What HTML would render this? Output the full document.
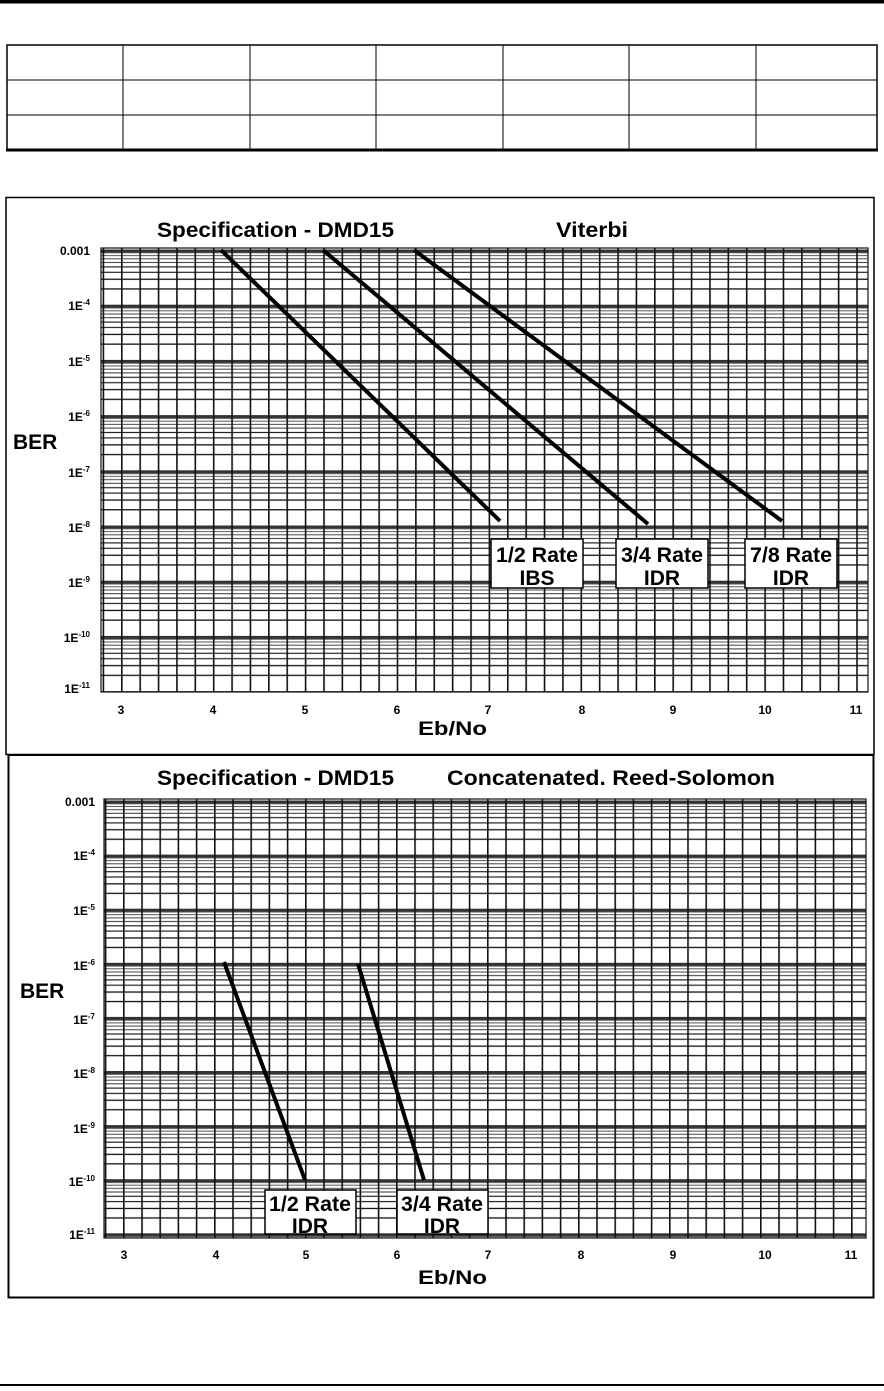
<!DOCTYPE html>
<html><head><meta charset="utf-8"><style>
html,body{margin:0;padding:0;background:#fff;}
body{width:884px;height:1386px;position:relative;overflow:hidden;font-family:"Liberation Sans",Arial,sans-serif;}
</style></head><body>
<svg width="884" height="1386" viewBox="0 0 884 1386" xmlns="http://www.w3.org/2000/svg" font-family="Liberation Sans, Arial, sans-serif" font-weight="bold">
<defs>
<pattern id="v1" x="121" y="0" width="18.38" height="10" patternUnits="userSpaceOnUse"><rect x="0" y="0" width="1.6" height="10" fill="#111"/></pattern>
<pattern id="h1" x="0" y="250" width="10" height="55.2" patternUnits="userSpaceOnUse">
<rect x="0" y="-0.5" width="10" height="3.5" fill="#333"/>
<rect x="0" y="2.3" width="10" height="1" fill="#555"/>
<rect x="0" y="5.1" width="10" height="1" fill="#555"/>
<rect x="0" y="8.3" width="10" height="1" fill="#444"/>
<rect x="0" y="12" width="10" height="1" fill="#333"/>
<rect x="0" y="16.3" width="10" height="1.2" fill="#222"/>
<rect x="0" y="21.7" width="10" height="1.2" fill="#222"/>
<rect x="0" y="28.6" width="10" height="1.3" fill="#111"/>
<rect x="0" y="38.3" width="10" height="1.3" fill="#111"/>
<rect x="0" y="54.7" width="10" height="0.5" fill="#333"/>
</pattern>
<pattern id="v2" x="123" y="0" width="18.2" height="10" patternUnits="userSpaceOnUse"><rect x="0" y="0" width="1.6" height="10" fill="#111"/></pattern>
<pattern id="h2" x="0" y="801" width="10" height="54.1" patternUnits="userSpaceOnUse">
<rect x="0" y="-0.5" width="10" height="3.5" fill="#333"/>
<rect x="0" y="2.3" width="10" height="1" fill="#555"/>
<rect x="0" y="5" width="10" height="1" fill="#555"/>
<rect x="0" y="8.2" width="10" height="1" fill="#444"/>
<rect x="0" y="11.8" width="10" height="1" fill="#333"/>
<rect x="0" y="16" width="10" height="1.2" fill="#222"/>
<rect x="0" y="21.3" width="10" height="1.2" fill="#222"/>
<rect x="0" y="28.1" width="10" height="1.3" fill="#111"/>
<rect x="0" y="37.6" width="10" height="1.3" fill="#111"/>
<rect x="0" y="53.6" width="10" height="0.5" fill="#333"/>
</pattern>
</defs>

<rect x="0" y="0" width="884" height="3.5" fill="#000"/>
<g stroke="#000" fill="none">
<rect x="7" y="45" width="870" height="105" stroke-width="1.5"/>
<line x1="6" y1="150" x2="878" y2="150" stroke-width="3"/>
<line x1="7" y1="80" x2="877" y2="80"/>
<line x1="7" y1="115" x2="877" y2="115"/>
<line x1="123" y1="45" x2="123" y2="150"/>
<line x1="250" y1="45" x2="250" y2="150"/>
<line x1="376" y1="45" x2="376" y2="150"/>
<line x1="503" y1="45" x2="503" y2="150"/>
<line x1="629" y1="45" x2="629" y2="150"/>
<line x1="756" y1="45" x2="756" y2="150"/>
</g>

<rect x="6" y="197.5" width="868" height="557" fill="none" stroke="#000" stroke-width="1.5"/>
<rect x="8.5" y="755" width="865" height="542.5" fill="none" stroke="#000" stroke-width="2"/>

<!-- TOP CHART -->
<text x="157" y="237" font-size="21" textLength="237" lengthAdjust="spacingAndGlyphs">Specification - DMD15</text>
<text x="556" y="237" font-size="21" textLength="72" lengthAdjust="spacingAndGlyphs">Viterbi</text>
<rect x="101" y="248" width="767" height="444" fill="url(#h1)"/>
<rect x="101" y="248" width="767" height="444" fill="url(#v1)"/>
<rect x="101" y="248" width="767" height="444" fill="none" stroke="#111" stroke-width="1.2"/>
<g font-size="12" text-anchor="end">
<text x="90" y="255">0.001</text>
<text x="90" y="310">1E<tspan font-size="8" dy="-5">-4</tspan></text>
<text x="90" y="366">1E<tspan font-size="8" dy="-5">-5</tspan></text>
<text x="90" y="421">1E<tspan font-size="8" dy="-5">-6</tspan></text>
<text x="90" y="477">1E<tspan font-size="8" dy="-5">-7</tspan></text>
<text x="90" y="532">1E<tspan font-size="8" dy="-5">-8</tspan></text>
<text x="90" y="587">1E<tspan font-size="8" dy="-5">-9</tspan></text>
<text x="90" y="642">1E<tspan font-size="8" dy="-5">-10</tspan></text>
<text x="90" y="693">1E<tspan font-size="8" dy="-5">-11</tspan></text>
</g>
<g font-size="12" text-anchor="middle">
<text x="121" y="714">3</text><text x="213" y="714">4</text><text x="305" y="714">5</text><text x="397" y="714">6</text><text x="488" y="714">7</text><text x="582" y="714">8</text><text x="673" y="714">9</text><text x="765" y="714">10</text><text x="856" y="714">11</text>
</g>
<text x="13" y="449" font-size="21">BER</text>
<text x="418" y="735" font-size="19" textLength="69" lengthAdjust="spacingAndGlyphs">Eb/No</text>
<g stroke="#000" stroke-width="4" stroke-linecap="butt">
<line x1="221" y1="250" x2="500" y2="521"/>
<line x1="323" y1="250" x2="648" y2="524"/>
<line x1="414" y1="250" x2="782" y2="521"/>
</g>
<g font-size="21" text-anchor="middle">
<rect x="491" y="539" width="92" height="49" fill="#fff" stroke="#000" stroke-width="1.5"/>
<text x="537" y="562" textLength="82" lengthAdjust="spacingAndGlyphs">1/2 Rate</text><text x="537" y="585">IBS</text>
<rect x="616" y="539" width="92" height="49" fill="#fff" stroke="#000" stroke-width="1.5"/>
<text x="662" y="562" textLength="82" lengthAdjust="spacingAndGlyphs">3/4 Rate</text><text x="662" y="585">IDR</text>
<rect x="745" y="539" width="92" height="49" fill="#fff" stroke="#000" stroke-width="1.5"/>
<text x="791" y="562" textLength="82" lengthAdjust="spacingAndGlyphs">7/8 Rate</text><text x="791" y="585">IDR</text>
</g>

<!-- BOTTOM CHART -->
<text x="157" y="785" font-size="21" textLength="237" lengthAdjust="spacingAndGlyphs">Specification - DMD15</text>
<text x="447" y="785" font-size="21" textLength="328" lengthAdjust="spacingAndGlyphs">Concatenated. Reed-Solomon</text>
<rect x="104" y="799" width="762" height="439" fill="url(#h2)"/>
<rect x="104" y="799" width="762" height="439" fill="url(#v2)"/>
<rect x="104" y="799" width="762" height="439" fill="none" stroke="#111" stroke-width="1.2"/>
<g font-size="12" text-anchor="end">
<text x="95" y="806">0.001</text>
<text x="95" y="860">1E<tspan font-size="8" dy="-5">-4</tspan></text>
<text x="95" y="915">1E<tspan font-size="8" dy="-5">-5</tspan></text>
<text x="95" y="970">1E<tspan font-size="8" dy="-5">-6</tspan></text>
<text x="95" y="1024">1E<tspan font-size="8" dy="-5">-7</tspan></text>
<text x="95" y="1078">1E<tspan font-size="8" dy="-5">-8</tspan></text>
<text x="95" y="1133">1E<tspan font-size="8" dy="-5">-9</tspan></text>
<text x="95" y="1186">1E<tspan font-size="8" dy="-5">-10</tspan></text>
<text x="95" y="1239">1E<tspan font-size="8" dy="-5">-11</tspan></text>
</g>
<g font-size="12" text-anchor="middle">
<text x="124" y="1259">3</text><text x="216" y="1259">4</text><text x="306" y="1259">5</text><text x="397" y="1259">6</text><text x="488" y="1259">7</text><text x="581" y="1259">8</text><text x="673" y="1259">9</text><text x="765" y="1259">10</text><text x="851" y="1259">11</text>
</g>
<text x="20" y="998" font-size="21">BER</text>
<text x="418" y="1284" font-size="19" textLength="69" lengthAdjust="spacingAndGlyphs">Eb/No</text>
<g stroke="#000" stroke-width="4">
<line x1="224" y1="962" x2="305" y2="1180"/>
<line x1="358" y1="964" x2="424" y2="1180"/>
</g>
<g font-size="21" text-anchor="middle">
<rect x="265" y="1190" width="91" height="44" fill="#fff" stroke="#000" stroke-width="1.5"/>
<text x="310" y="1211" textLength="82" lengthAdjust="spacingAndGlyphs">1/2 Rate</text><text x="310" y="1233">IDR</text>
<rect x="397" y="1190" width="91" height="44" fill="#fff" stroke="#000" stroke-width="1.5"/>
<text x="442" y="1211" textLength="82" lengthAdjust="spacingAndGlyphs">3/4 Rate</text><text x="442" y="1233">IDR</text>
</g>

<rect x="0" y="1384" width="884" height="2" fill="#000"/>
</svg>
</body></html>
